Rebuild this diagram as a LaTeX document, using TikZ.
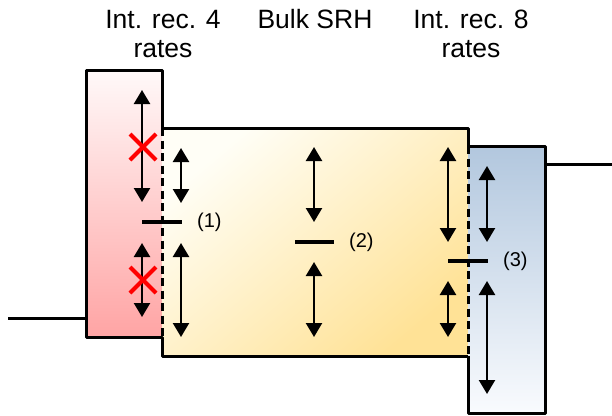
\documentclass[tikz,border=0pt]{standalone}
\usepackage{fontspec}
\setmainfont{Liberation Sans}
\usetikzlibrary{arrows.meta,positioning}
\definecolor{RecRed}{RGB}{255,164,164}
\definecolor{RecRedTop}{RGB}{255,249,249}
\definecolor{BulkYellow}{RGB}{255,226,150}
\definecolor{BulkTop}{RGB}{255,254,246}
\definecolor{RecBlue}{RGB}{178,199,222}
\definecolor{RecBlueLow}{RGB}{249,251,254}
\tikzset{
  edge/.style={line width=3pt,line join=round},
  iface/.style={line width=3pt,dash pattern=on 8pt off 4.5pt},
  darr/.style={{Triangle[width=16pt,length=14pt]}-{Triangle[width=16pt,length=14pt]},line width=2.3pt},
  lvl/.style={line width=3.2pt},
  nogo/.style={red,line width=4pt},
  lbl/.style={font=\fontsize{20}{24}\selectfont,anchor=west,inner sep=0pt},
  ttl/.style={font=\fontsize{26.5}{29}\selectfont,align=center,inner sep=0pt,anchor=base},
}
\begin{document}
\begin{tikzpicture}[x=1pt,y=-1pt]
    \useasboundingbox (0,0) rectangle (612,415);
    % layers
    \shade[top color=RecRedTop,bottom color=RecRed] (86,70) rectangle (162,337);
    \shade[top color=BulkTop,bottom color=BulkYellow,shading angle=40] (162,128) rectangle (468,356);
    \shade[top color=RecBlue,bottom color=RecBlueLow] (468,146) rectangle (545,413);
    \draw[edge] (162,128) -- (162,70) -- (86,70) -- (86,337) -- (162,337) -- (162,356) -- (468,356);
    \draw[edge] (162,128) -- (468,128) -- (468,146) -- (545,146) -- (545,413) -- (468,413) -- (468,356);
    \draw[iface] (162,128) -- (162,337);
    \draw[iface] (468,146) -- (468,356);
    % contacts
    \draw[edge] (8,318) -- (86,318);
    \draw[edge] (545,164) -- (612,164);
    % titles (base = last line)
    \node[ttl] (t4) at (163,57) {Int. rec. 4\\rates};
    \node[ttl] (tsrh) at (315,28) {Bulk SRH};
    \node[ttl] (t8) at (471,57) {Int. rec. 8\\rates};
    % (1) interface 4
    \draw[darr] (142,90) -- (142,202);
    \draw[darr] (142,243) -- (142,317);
    \draw[darr] (181,148) -- (181,203);
    \draw[darr] (181,243) -- (181,337);
    \draw[lvl] (142,222) -- (182,222) coordinate (lv1);
    \node[lbl,right=15pt of lv1] (l1) {(1)};
    \draw[nogo] (130,134) -- (156,160) (130,160) -- (156,134);
    \draw[nogo] (130,267) -- (156,293) (130,293) -- (156,267);
    % (2) bulk
    \draw[darr] (314,147) -- (314,222);
    \draw[darr] (314,262) -- (314,337);
    \draw[lvl] (295,242) -- (334,242) coordinate (lv2);
    \node[lbl,right=15pt of lv2] (l2) {(2)};
    % (3) interface 8
    \draw[darr] (448,147) -- (448,242);
    \draw[darr] (448,281) -- (448,337);
    \draw[darr] (487,166) -- (487,242);
    \draw[darr] (487,281) -- (487,394);
    \draw[lvl] (448,261) -- (488,261) coordinate (lv3);
    \node[lbl,right=15pt of lv3] (l3) {(3)};
\end{tikzpicture}
\end{document}
